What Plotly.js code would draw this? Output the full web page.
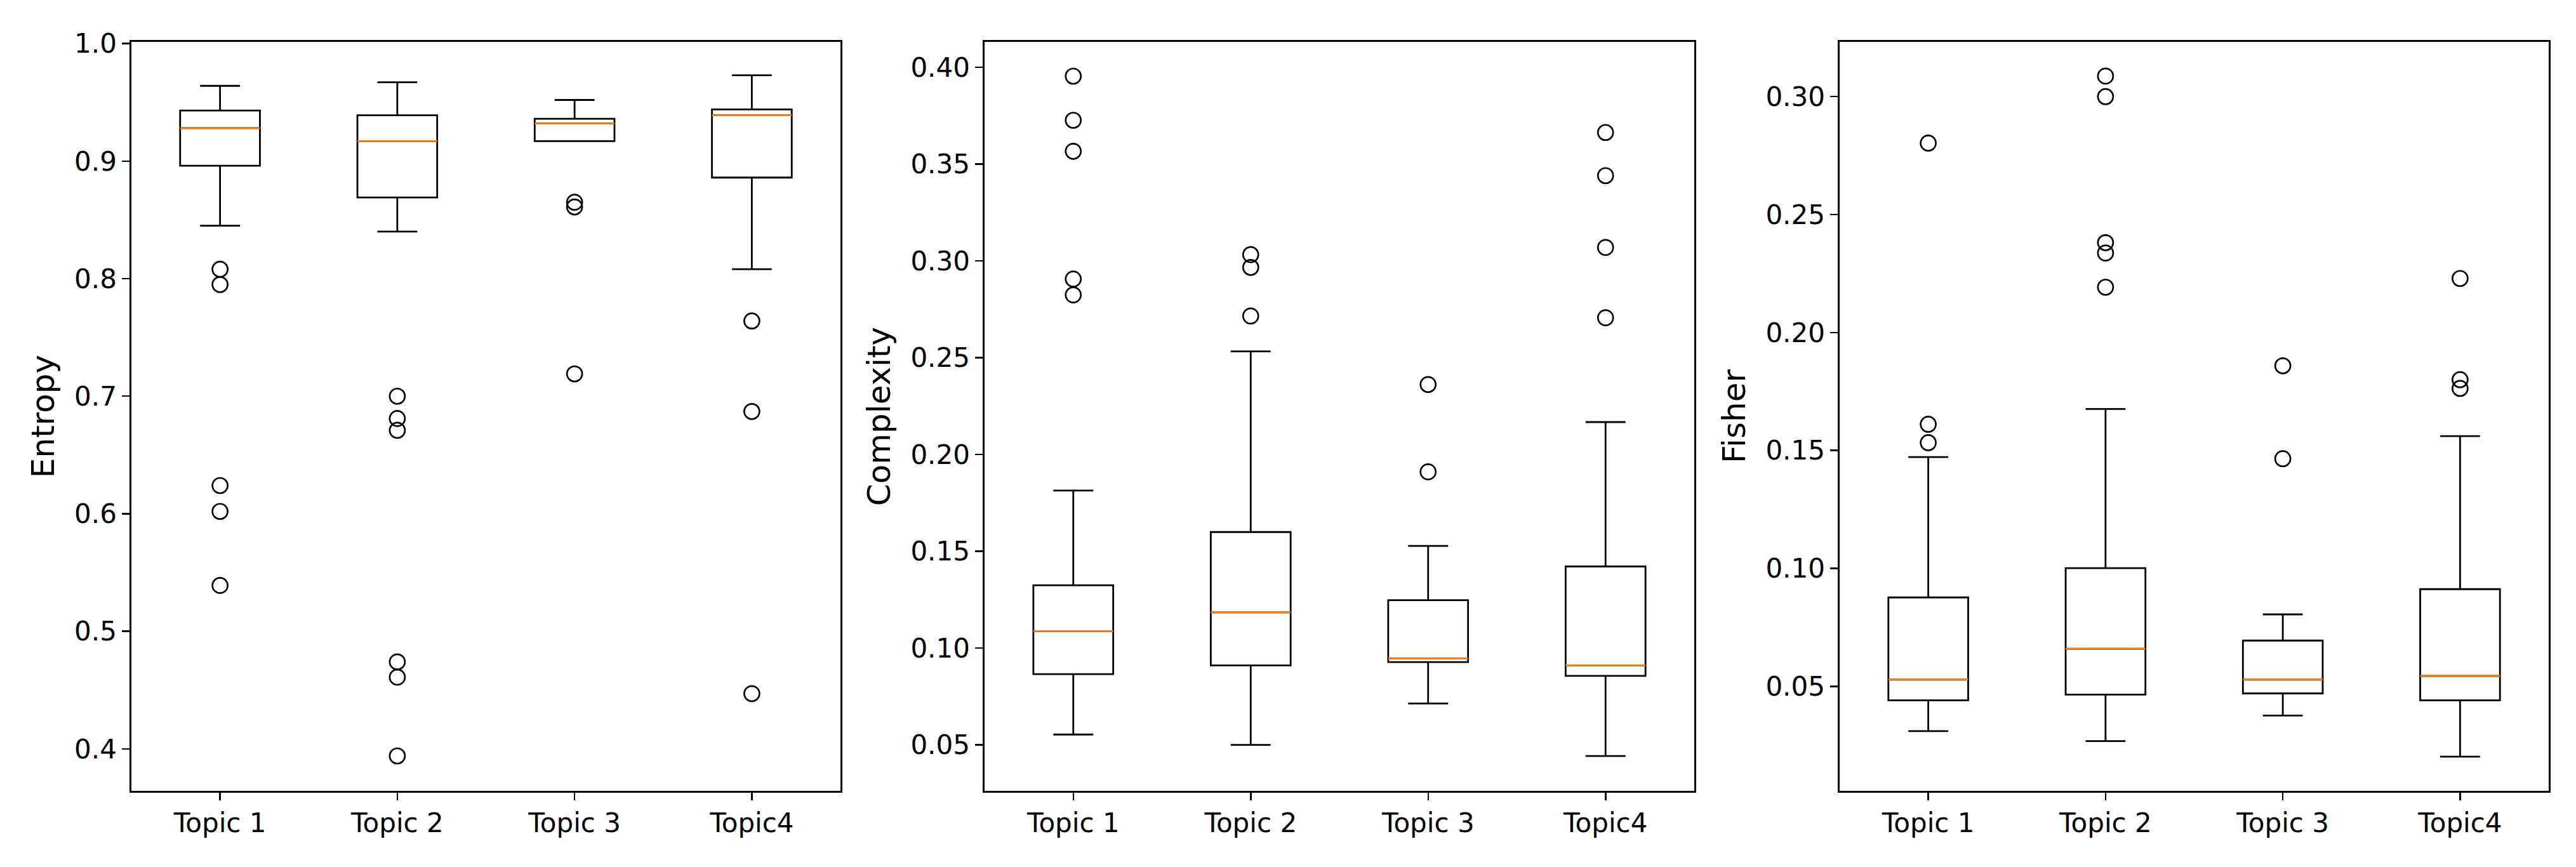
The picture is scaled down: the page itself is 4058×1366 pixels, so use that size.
<!DOCTYPE html>
<html>
<head>
<meta charset="utf-8">
<script src="https://cdn.plot.ly/plotly-3.0.1.min.js"></script>
<style>html,body{margin:0;padding:0;background:#fff;}#chart{width:4058px;height:1366px;}</style>
</head>
<body>
<div id="chart"></div>
<script>
const categories = ['Topic 1', 'Topic 2', 'Topic 3', 'Topic4'];
const positions = [1, 2, 3, 4];

// Entropy
const entropyQ1 = [0.896, 0.869, 0.917, 0.886];
const entropyMedian = [0.928, 0.917, 0.932, 0.939];
const entropyQ3 = [0.943, 0.939, 0.936, 0.944];
const entropyLow = [0.845, 0.840, 0.9175, 0.808];
const entropyHigh = [0.964, 0.967, 0.952, 0.973];
const entropyOutliers = [
  [0.808, 0.795, 0.624, 0.602, 0.539],
  [0.700, 0.681, 0.671, 0.474, 0.461, 0.394],
  [0.865, 0.861, 0.719],
  [0.764, 0.687, 0.447]
];

// Complexity
const complexityQ1 = [0.0865, 0.0910, 0.0927, 0.0856];
const complexityMedian = [0.1087, 0.1184, 0.0945, 0.0910];
const complexityQ3 = [0.1324, 0.1599, 0.1247, 0.1421];
const complexityLow = [0.0553, 0.0499, 0.0713, 0.0442];
const complexityHigh = [0.1813, 0.2532, 0.1527, 0.2167];
const complexityOutliers = [
  [0.3954, 0.3726, 0.3566, 0.2906, 0.2824],
  [0.3032, 0.2966, 0.2715],
  [0.2361, 0.1910],
  [0.3663, 0.3440, 0.3069, 0.2706]
];

// Fisher
const fisherQ1 = [0.0441, 0.0465, 0.0470, 0.0441];
const fisherMedian = [0.0528, 0.0659, 0.0528, 0.0544];
const fisherQ3 = [0.0877, 0.1001, 0.0694, 0.0912];
const fisherLow = [0.0310, 0.0268, 0.0376, 0.0202];
const fisherHigh = [0.1472, 0.1676, 0.0805, 0.1561];
const fisherOutliers = [
  [0.2803, 0.1611, 0.1533],
  [0.3087, 0.3000, 0.2381, 0.2337, 0.2192],
  [0.1859, 0.1465],
  [0.2229, 0.1800, 0.1763]
];

const W = 4058, H = 1366;
const FONT = 'DejaVu Sans';
const panels = [
  {q1: entropyQ1, med: entropyMedian, q3: entropyQ3, lo: entropyLow, hi: entropyHigh, out: entropyOutliers,
   title: 'Entropy', range: [0.3643, 1.0014], dtick: 0.1, fmt: '.1f', x0: 207, x1: 1324},
  {q1: complexityQ1, med: complexityMedian, q3: complexityQ3, lo: complexityLow, hi: complexityHigh, out: complexityOutliers,
   title: 'Complexity', range: [0.0262, 0.4131], dtick: 0.05, fmt: '.2f', x0: 1551, x1: 2669},
  {q1: fisherQ1, med: fisherMedian, q3: fisherQ3, lo: fisherLow, hi: fisherHigh, out: fisherOutliers,
   title: 'Fisher', range: [0.0057, 0.3232], dtick: 0.05, fmt: '.2f', x0: 2898, x1: 4015}
];

const traces = [];
const layout = {
  width: W, height: H,
  margin: {l: 0, r: 0, t: 0, b: 0},
  paper_bgcolor: '#ffffff', plot_bgcolor: '#ffffff',
  showlegend: false,
  boxmode: 'overlay',
  font: {family: FONT, color: '#000000'}
};

const yTop = 1 - 66 / H, yBot = 1 - 1246 / H;

panels.forEach((p, i) => {
  const n = i === 0 ? '' : String(i + 1);
  const xa = 'x' + n, ya = 'y' + n;
  traces.push({
    type: 'box', xaxis: xa, yaxis: ya,
    x: positions, q1: p.q1, median: p.med, q3: p.q3,
    lowerfence: p.lo, upperfence: p.hi,
    boxpoints: false, width: 0.45, whiskerwidth: 0.5,
    line: {color: '#000000', width: 2.8},
    fillcolor: 'rgba(0,0,0,0)', hoverinfo: 'skip'
  });
  traces.push({
    type: 'box', xaxis: xa, yaxis: ya,
    x: positions, q1: p.med, median: p.med, q3: p.med,
    lowerfence: p.med, upperfence: p.med,
    boxpoints: false, width: 0.45, whiskerwidth: 0,
    line: {color: '#ff7f0e', width: 2.8},
    fillcolor: 'rgba(0,0,0,0)', hoverinfo: 'skip'
  });
  const ox = [], oy = [];
  p.out.forEach((arr, k) => arr.forEach(v => { ox.push(positions[k]); oy.push(v); }));
  traces.push({
    type: 'scatter', mode: 'markers', xaxis: xa, yaxis: ya,
    x: ox, y: oy,
    marker: {symbol: 'circle-open', size: 24, color: '#000000', line: {width: 2.7, color: '#000000'}},
    hoverinfo: 'skip'
  });
  layout['xaxis' + n] = {
    domain: [p.x0 / W, p.x1 / W], anchor: ya,
    range: [0.5, 4.5], tickvals: positions, ticktext: categories,
    showgrid: false, zeroline: false,
    showline: true, mirror: true, linecolor: '#000000', linewidth: 2.7,
    ticks: 'outside', ticklen: 12, tickwidth: 2.5, tickcolor: '#000000',
    tickfont: {family: FONT, size: 42, color: '#000000'}
  };
  layout['yaxis' + n] = {
    domain: [yBot, yTop], anchor: xa,
    range: p.range, dtick: p.dtick, tick0: 0, tickformat: p.fmt,
    showgrid: false, zeroline: false,
    showline: true, mirror: true, linecolor: '#000000', linewidth: 2.7,
    ticks: 'outside', ticklen: 12, tickwidth: 2.5, tickcolor: '#000000',
    tickfont: {family: FONT, size: 42, color: '#000000'},
    title: {text: p.title, font: {family: FONT, size: 50, color: '#000000'}, standoff: 16}
  };
});

Plotly.newPlot('chart', traces, layout, {staticPlot: true, displayModeBar: false});
</script>
</body>
</html>
